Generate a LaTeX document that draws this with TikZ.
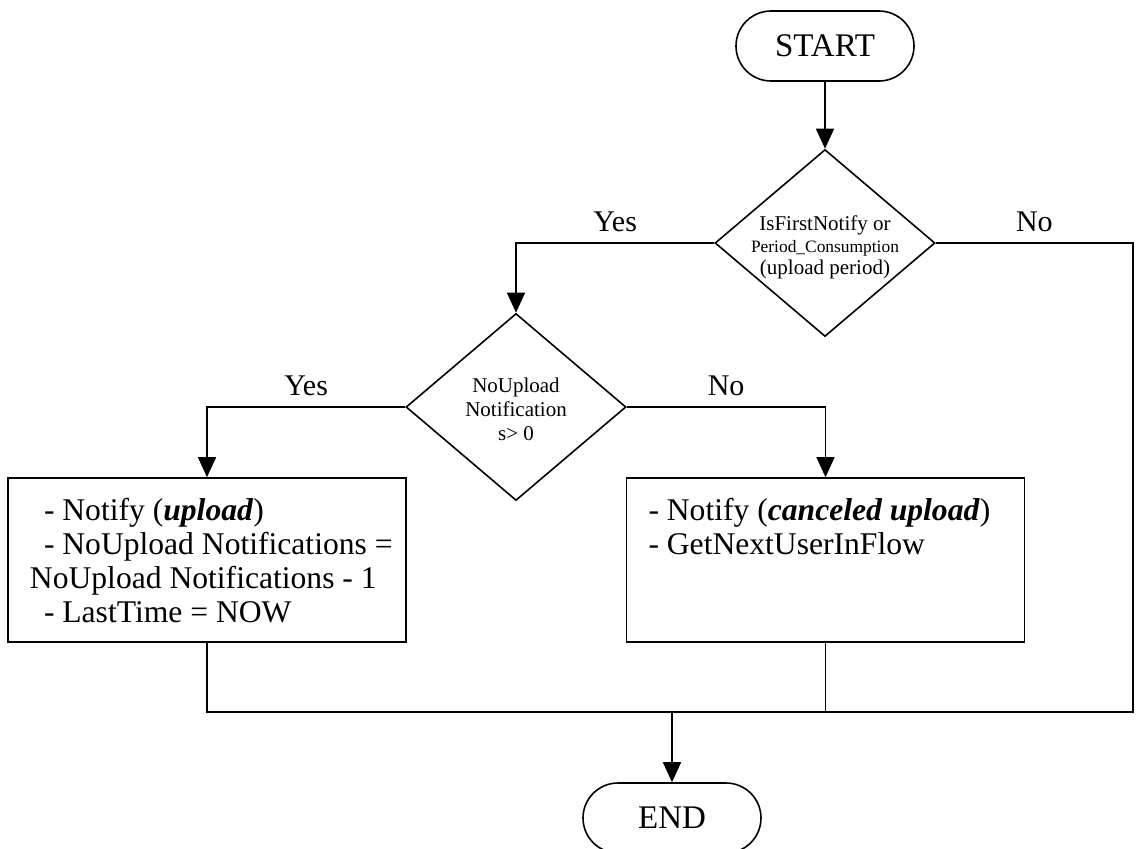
\documentclass[tikz,border=0pt]{standalone}
\usepackage{fontspec}
\setmainfont{Liberation Serif}
\usetikzlibrary{arrows.meta,shapes.geometric}

\begin{document}
\begin{tikzpicture}[x=0.5pt,y=-0.5pt,line width=0.8pt]
  \tikzset{
    terminal/.style={draw, rectangle, rounded corners=17.5pt, minimum width=89pt,
      minimum height=35pt, inner sep=0pt, font=\fontsize{16.5}{17}\selectfont},
    decision/.style={draw, diamond, minimum width=110pt, minimum height=93.5pt, inner sep=0pt},
    dlabel/.style={align=center, inner sep=0pt},
    process/.style={draw, rectangle, inner xsep=11pt, inner ysep=10pt},
    flow/.style={-{Triangle[length=10pt,width=9pt]}},
    answer/.style={above, inner sep=5pt, font=\fontsize{15}{16}\selectfont}
  }
  \useasboundingbox (0,0) rectangle (1136,848);
  \clip (0,0) rectangle (1136,848);

  \node[terminal] (start) at (825,46) {START};
  \node[decision, label={[dlabel, yshift=-2pt, font=\fontsize{10.5}{11}\selectfont]center:{IsFirstNotify or\\{\fontsize{8.7}{11}\selectfont Period\_Consumption}\\(upload period)}}] (check) at (825,243) {};
  \node[decision, label={[dlabel, yshift=-1pt, font=\fontsize{10.5}{12}\selectfont]center:{NoUpload\\Notification\\s> 0}}] (count) at (516,407) {};
  \node[process] (upload) at (207,560) {\parbox[c][62pt][t]{177pt}{\raggedright\fontsize{15.8}{17}\selectfont
    \mbox{\hspace*{7pt}- Notify (\textbf{\textit{upload}})}\\
    \mbox{\hspace*{7pt}- NoUpload Notifications =}\\
    \mbox{NoUpload Notifications - 1}\\
    \mbox{\hspace*{7pt}- LastTime = NOW}}};
  \node[process] (cancel) at (825.5,560) {\parbox[c][62pt][t]{177pt}{\raggedright\fontsize{15.8}{17}\selectfont
    \mbox{- Notify (\textbf{\textit{canceled upload}})}\\
    \mbox{- GetNextUserInFlow}}};
  \node[terminal] (end) at (672,818) {END};
  \coordinate (side) at (1133,243);
  \coordinate (merge) at (672,712);

  \draw[flow] (start) -- (check);
  \draw[flow] (check.west) -| node[answer, pos=0.25] {Yes} (count.north);
  \draw (check.east) -- node[answer] {No} (side) |- (upload.south |- merge) -- (upload.south);
  \draw[flow] (count.west) -| node[answer, pos=0.25] {Yes} (upload.north);
  \draw[flow] (count.east) -| node[answer, pos=0.25] {No} (cancel.north);
  \draw (cancel.south) -- (cancel.south |- merge);
  \draw[flow] (merge) -- (end);
\end{tikzpicture}
\end{document}
